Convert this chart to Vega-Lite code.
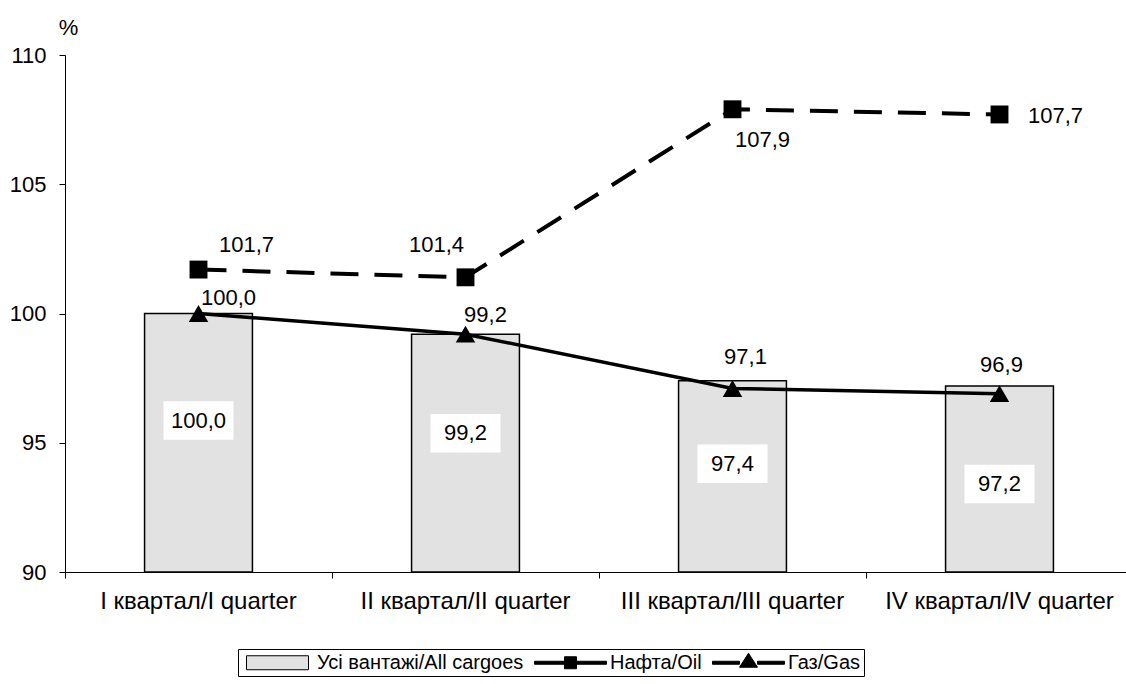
{
  "$schema": "https://vega.github.io/schema/vega-lite/v6.json",
  "autosize": "none",
  "width": 1068,
  "height": 517,
  "padding": {"left": 65, "top": 55, "right": 0, "bottom": 112},
  "background": "white",
  "config": {
    "view": {"stroke": null},
    "font": "Liberation Sans",
    "locale": {"number": {"decimal": ",", "thousands": " ", "grouping": [3], "currency": ["", ""]}}
  },
  "datasets": {
    "main": [
      {"quarter": "I квартал/I quarter", "all": 100.0, "oil": 101.7, "gas": 100.0},
      {"quarter": "II квартал/II quarter", "all": 99.2, "oil": 101.4, "gas": 99.2},
      {"quarter": "III квартал/III quarter", "all": 97.4, "oil": 107.9, "gas": 97.1},
      {"quarter": "IV квартал/IV quarter", "all": 97.2, "oil": 107.7, "gas": 96.9}
    ],
    "legend": [
      {"series": "Усі вантажі/All cargoes"},
      {"series": "Нафта/Oil"},
      {"series": "Газ/Gas"}
    ]
  },
  "data": {"name": "main"},
  "encoding": {
    "x": {
      "field": "quarter", "type": "nominal", "sort": null,
      "scale": {"paddingInner": 0, "paddingOuter": 0},
      "axis": {"title": null, "labelAngle": 0, "labelFontSize": 24, "labelColor": "black",
               "domainColor": "black", "domainWidth": 1, "tickColor": "black", "tickSize": 6,
               "bandPosition": 0, "labelPadding": 11, "grid": false, "labelLimit": 400}
    }
  },
  "layer": [
    {
      "mark": {"type": "bar", "width": {"band": 0.404}, "fill": "#e2e2e2", "stroke": "black", "strokeWidth": 1.5},
      "encoding": {
        "y": {"field": "all", "type": "quantitative",
              "scale": {"domain": [90, 110], "zero": false, "nice": false},
              "axis": {"values": [90, 95, 100, 105, 110], "labelFontSize": 22, "labelColor": "black",
                       "domainColor": "black", "tickColor": "black", "tickSize": 6, "labelPadding": 13,
                       "grid": false, "title": "%", "titleAngle": 0, "titleFontSize": 22,
                       "titleFontWeight": "normal", "titleX": 3, "titleY": -28, "titleAlign": "center",
                       "titleBaseline": "middle", "titleColor": "black"}},
        "y2": {"datum": 90}
      }
    },
    {
      "transform": [{"filter": "datum.quarter == 'I квартал/I quarter'"}],
      "encoding": {"y": {"field": "all", "type": "quantitative"}},
      "layer": [
        {"mark": {"type": "point", "shape": "M-1,-0.55H1V0.55H-1Z", "size": 4900, "filled": true, "fill": "white", "opacity": 1, "yOffset": 107}},
        {"mark": {"type": "text", "fontSize": 22, "color": "black", "dy": 107},
         "encoding": {"text": {"field": "all", "type": "quantitative", "format": ".1f"}}}
      ]
    },
    {
      "transform": [{"filter": "datum.quarter == 'II квартал/II quarter'"}],
      "encoding": {"y": {"field": "all", "type": "quantitative"}},
      "layer": [
        {"mark": {"type": "point", "shape": "M-1,-0.55H1V0.55H-1Z", "size": 4900, "filled": true, "fill": "white", "opacity": 1, "yOffset": 99}},
        {"mark": {"type": "text", "fontSize": 22, "color": "black", "dy": 99},
         "encoding": {"text": {"field": "all", "type": "quantitative", "format": ".1f"}}}
      ]
    },
    {
      "transform": [{"filter": "datum.quarter == 'III квартал/III quarter'"}],
      "encoding": {"y": {"field": "all", "type": "quantitative"}},
      "layer": [
        {"mark": {"type": "point", "shape": "M-1,-0.55H1V0.55H-1Z", "size": 4900, "filled": true, "fill": "white", "opacity": 1, "yOffset": 83}},
        {"mark": {"type": "text", "fontSize": 22, "color": "black", "dy": 83},
         "encoding": {"text": {"field": "all", "type": "quantitative", "format": ".1f"}}}
      ]
    },
    {
      "transform": [{"filter": "datum.quarter == 'IV квартал/IV quarter'"}],
      "encoding": {"y": {"field": "all", "type": "quantitative"}},
      "layer": [
        {"mark": {"type": "point", "shape": "M-1,-0.55H1V0.55H-1Z", "size": 4900, "filled": true, "fill": "white", "opacity": 1, "yOffset": 98}},
        {"mark": {"type": "text", "fontSize": 22, "color": "black", "dy": 98},
         "encoding": {"text": {"field": "all", "type": "quantitative", "format": ".1f"}}}
      ]
    },
    {
      "mark": {"type": "line", "color": "black", "strokeWidth": 3.5},
      "encoding": {"y": {"field": "gas", "type": "quantitative"}}
    },
    {
      "mark": {"type": "line", "color": "black", "strokeWidth": 4, "strokeDash": [28, 16]},
      "encoding": {"y": {"field": "oil", "type": "quantitative"}}
    },
    {
      "mark": {"type": "point", "shape": "square", "size": 320, "filled": true, "color": "black", "opacity": 1},
      "encoding": {"y": {"field": "oil", "type": "quantitative"}}
    },
    {
      "mark": {"type": "point", "shape": "triangle-up", "size": 380, "filled": true, "color": "black", "opacity": 1},
      "encoding": {"y": {"field": "gas", "type": "quantitative"}}
    },
    {
      "transform": [{"filter": "datum.quarter == 'I квартал/I quarter'"}],
      "mark": {"type": "text", "fontSize": 22, "color": "black", "dx": 48, "dy": -25},
      "encoding": {"y": {"field": "oil", "type": "quantitative"}, "text": {"field": "oil", "type": "quantitative", "format": ".1f"}}
    },
    {
      "transform": [{"filter": "datum.quarter == 'II квартал/II quarter'"}],
      "mark": {"type": "text", "fontSize": 22, "color": "black", "dx": -29, "dy": -32},
      "encoding": {"y": {"field": "oil", "type": "quantitative"}, "text": {"field": "oil", "type": "quantitative", "format": ".1f"}}
    },
    {
      "transform": [{"filter": "datum.quarter == 'III квартал/III quarter'"}],
      "mark": {"type": "text", "fontSize": 22, "color": "black", "dx": 30, "dy": 31},
      "encoding": {"y": {"field": "oil", "type": "quantitative"}, "text": {"field": "oil", "type": "quantitative", "format": ".1f"}}
    },
    {
      "transform": [{"filter": "datum.quarter == 'IV квартал/IV quarter'"}],
      "mark": {"type": "text", "fontSize": 22, "color": "black", "dx": 56, "dy": 2},
      "encoding": {"y": {"field": "oil", "type": "quantitative"}, "text": {"field": "oil", "type": "quantitative", "format": ".1f"}}
    },
    {
      "transform": [{"filter": "datum.quarter == 'I квартал/I quarter'"}],
      "mark": {"type": "text", "fontSize": 22, "color": "black", "dx": 30, "dy": -16},
      "encoding": {"y": {"field": "gas", "type": "quantitative"}, "text": {"field": "gas", "type": "quantitative", "format": ".1f"}}
    },
    {
      "transform": [{"filter": "datum.quarter == 'II квартал/II quarter'"}],
      "mark": {"type": "text", "fontSize": 22, "color": "black", "dx": 20, "dy": -19},
      "encoding": {"y": {"field": "gas", "type": "quantitative"}, "text": {"field": "gas", "type": "quantitative", "format": ".1f"}}
    },
    {
      "transform": [{"filter": "datum.quarter == 'III квартал/III quarter'"}],
      "mark": {"type": "text", "fontSize": 22, "color": "black", "dx": 13, "dy": -31},
      "encoding": {"y": {"field": "gas", "type": "quantitative"}, "text": {"field": "gas", "type": "quantitative", "format": ".1f"}}
    },
    {
      "transform": [{"filter": "datum.quarter == 'IV квартал/IV quarter'"}],
      "mark": {"type": "text", "fontSize": 22, "color": "black", "dx": 2, "dy": -29},
      "encoding": {"y": {"field": "gas", "type": "quantitative"}, "text": {"field": "gas", "type": "quantitative", "format": ".1f"}}
    },
    {
      "data": {"name": "legend"},
      "mark": {"type": "point", "filled": true, "opacity": 0},
      "encoding": {
        "x": {"value": 0},
        "y": {"value": 0},
        "color": {
          "field": "series", "type": "nominal",
          "scale": {"domain": ["Усі вантажі/All cargoes", "Нафта/Oil", "Газ/Gas"], "range": ["#e2e2e2", "black", "black"]},
          "legend": {"title": null, "orient": "none", "legendX": 173, "legendY": 594, "direction": "horizontal",
                     "strokeColor": "black", "padding": 3, "labelFontSize": 20, "labelColor": "black", "labelLimit": 400,
                     "symbolSize": 400, "symbolOpacity": 1, "symbolStrokeWidth": 1,
                     "labelOffset": 55, "columnPadding": 8}
        },
        "stroke": {
          "field": "series", "type": "nominal",
          "scale": {"domain": ["Усі вантажі/All cargoes", "Нафта/Oil", "Газ/Gas"], "range": ["black", "black", "black"]},
          "legend": {"title": null, "orient": "none", "legendX": 173, "legendY": 594, "direction": "horizontal",
                     "strokeColor": "black", "padding": 3, "labelFontSize": 20, "labelColor": "black", "labelLimit": 400,
                     "symbolSize": 400, "symbolOpacity": 1, "symbolStrokeWidth": 1,
                     "labelOffset": 55, "columnPadding": 8}
        },
        "shape": {
          "field": "series", "type": "nominal",
          "scale": {"domain": ["Усі вантажі/All cargoes", "Нафта/Oil", "Газ/Gas"],
                    "range": ["M-0.5,-0.7H5.7V0.7H-0.5Z",
                              "M-1,-0.15H2V0.15H-1Z M2,-0.6H3.2V0.6H2Z M3.2,-0.15H6.2V0.15H3.2Z",
                              "M-1,-0.15H1.7V0.15H-1Z M1.7,0.45L2.6,-0.95L3.5,0.45Z M3.5,-0.15H6.2V0.15H3.5Z"]},
          "legend": {"title": null, "orient": "none", "legendX": 173, "legendY": 594, "direction": "horizontal",
                     "strokeColor": "black", "padding": 3, "labelFontSize": 20, "labelColor": "black", "labelLimit": 400,
                     "symbolSize": 400, "symbolOpacity": 1, "symbolStrokeWidth": 1,
                     "labelOffset": 55, "columnPadding": 8}
        }
      }
    }
  ]
}
